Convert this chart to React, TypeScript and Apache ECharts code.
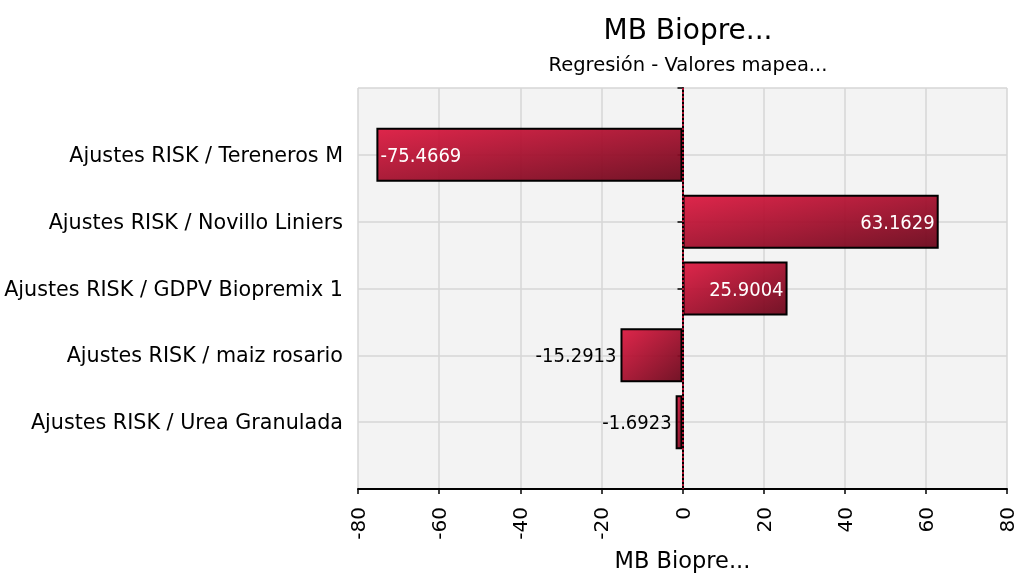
import React, { useEffect, useRef } from "react";
import * as echarts from "echarts";

const categories = [
  "Ajustes RISK / Tereneros M",
  "Ajustes RISK / Novillo Liniers",
  "Ajustes RISK / GDPV Biopremix 1",
  "Ajustes RISK / maiz rosario",
  "Ajustes RISK / Urea Granulada",
];
const values = [-75.4669, 63.1629, 25.9004, -15.2913, -1.6923];
const xTicks = { min: -80, max: 80, interval: 20 };
const titleText = "MB Biopre...";
const subtitleText = "Regresión - Valores mapea...";
const xAxisName = "MB Biopre...";

const FONT = "'DejaVu Sans', sans-serif";
const FONT_C = "'DejaVu Sans Condensed', 'DejaVu Sans', sans-serif";

export default function App() {
  const ref = useRef<HTMLDivElement>(null);
  useEffect(() => {
    if (!ref.current) return;
    const chart = echarts.init(ref.current, null, { renderer: "svg" });
    const axisCats = ["", ...categories, ""];
    const data: any[] = ["-", ...values.map((v) => {
      const inside = Math.abs(v) > 20;
      return {
        value: v,
        label: {
          show: true,
          position: inside ? (v < 0 ? "insideLeft" : "insideRight") : (v < 0 ? "left" : "right"),
          color: inside ? "#ffffff" : "#000000",
          fontSize: 20,
          fontFamily: FONT_C,
          distance: 4,
          formatter: (p: any) => String(p.value),
        },
      };
    }), "-"];
    chart.setOption({
      animation: false,
      textStyle: { fontFamily: FONT },
      title: [
        { text: titleText, left: 683, top: 10, textAlign: "center", textStyle: { fontSize: 28, fontWeight: "normal", fontFamily: FONT, color: "#000" } },
        { text: subtitleText, left: 683, top: 49, textAlign: "center", textStyle: { fontSize: 19.5, fontWeight: "normal", fontFamily: FONT, color: "#000" } },
      ],
      grid: { left: 358, right: 12, top: 88, bottom: 85, show: true, backgroundColor: "#f3f3f3", borderWidth: 0, outerBoundsMode: "none", containLabel: false },
      xAxis: {
        type: "value",
        min: xTicks.min,
        max: xTicks.max,
        interval: xTicks.interval,
        name: xAxisName,
        nameLocation: "middle",
        nameGap: 59,
        nameTextStyle: { fontSize: 22.5, color: "#000", fontFamily: FONT },
        axisLine: { show: true, onZero: false, lineStyle: { color: "#000", width: 2 } },
        axisTick: { show: true, length: 5, lineStyle: { color: "#000", width: 1.5 } },
        axisLabel: { rotate: 90, fontSize: 20, color: "#000", margin: 18, fontFamily: FONT },
        splitLine: { show: true, lineStyle: { color: "#d6d6d6", width: 1.5 } },
      },
      yAxis: {
        type: "category",
        data: axisCats,
        inverse: true,
        boundaryGap: false,
        axisLine: { show: true, lineStyle: { color: "#000", width: 2 } },
        axisTick: { show: true, length: 5, lineStyle: { color: "#000", width: 1.5 } },
        axisLabel: { fontSize: 20.7, color: "#000", margin: 15, fontFamily: FONT },
        splitLine: { show: true, lineStyle: { color: "#d6d6d6", width: 1.5 } },
      },
      series: [
        {
          type: "bar",
          data,
          barWidth: 54,
          itemStyle: {
            color: new echarts.graphic.LinearGradient(0, 0, 1, 1, [
              { offset: 0, color: "rgba(220,20,60,0.92)" },
              { offset: 1, color: "rgba(108,8,28,0.95)" },
            ]),
            borderColor: "#000",
            borderWidth: 2,
          },
          markLine: {
            silent: true,
            symbol: "none",
            label: { show: false },
            lineStyle: { color: "#dc143c", type: [2, 2], width: 1.5 },
            data: [{ xAxis: 0 }],
          },
        },
      ],
    });
    return () => chart.dispose();
  }, []);
  return <div ref={ref} style={{ position: "fixed", left: 0, top: 0, width: 1019, height: 574 }} />;
}
